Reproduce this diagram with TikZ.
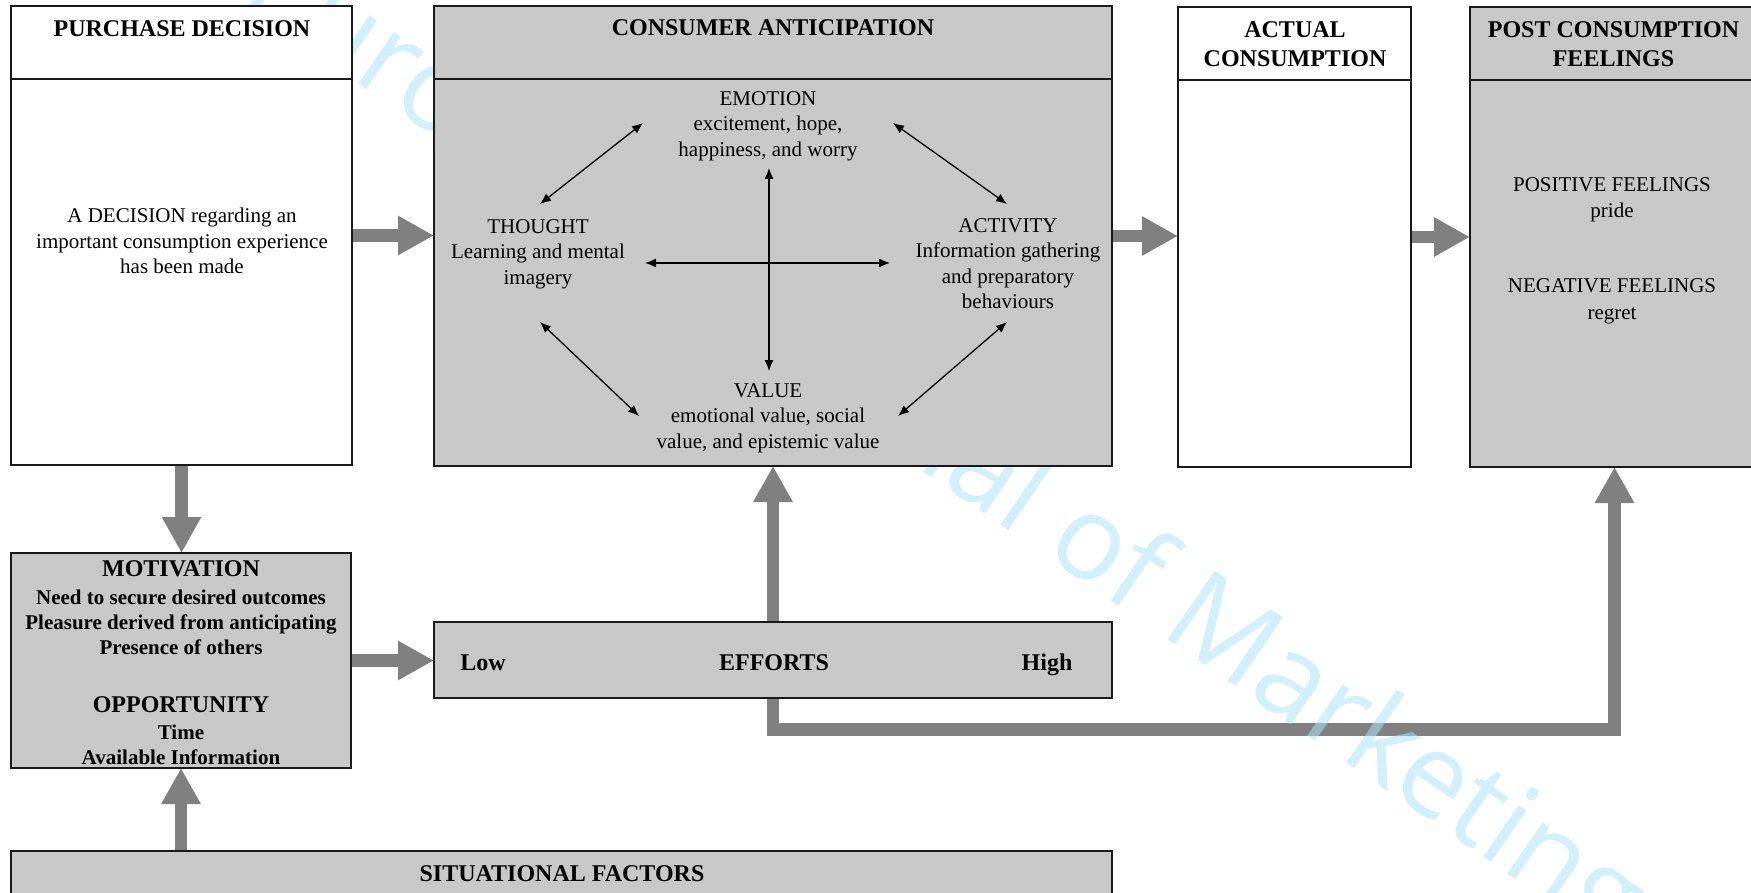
\documentclass[tikz,border=0pt]{standalone}
\usepackage{fontspec}
\setmainfont{Liberation Serif}
\newfontfamily\wmfont{Open Sans}
\usetikzlibrary{arrows.meta}
\pgfdeclarelayer{connlayer}
\pgfdeclarelayer{wmlayer}
\pgfsetlayers{connlayer,wmlayer,main}
\definecolor{boxgrey}{RGB}{200,200,200}
\definecolor{arrgrey}{RGB}{128,128,128}
\definecolor{wmblue}{RGB}{173,225,249}
\definecolor{edgecol}{RGB}{25,25,25}
\begin{document}
\begin{tikzpicture}[x=1pt,y=-1pt,
  box/.style={draw=edgecol, line width=1.6pt, inner sep=0pt, outer sep=0pt},
  whitebox/.style={box, fill=white},
  greybox/.style={box, fill=boxgrey},
  hline/.style={draw=edgecol, line width=1.6pt},
  bigarrow/.style={draw=arrgrey, line width=12.5pt, line join=miter, -{Triangle[width=37pt,length=36pt]}},
  thinarrow/.style={draw=black, line width=1.3pt, {Latex[length=11pt,width=9pt]}-{Latex[length=11pt,width=9pt]}},
  hdr/.style={font=\fontsize{24}{29.4}\selectfont\bfseries, align=center, inner sep=0pt},
  body/.style={font=\fontsize{21}{25.5}\selectfont, align=center, inner sep=0pt},
  mbody/.style={font=\fontsize{21}{25}\selectfont\bfseries, align=center, inner sep=0pt},
  wmtext/.style={text=wmblue, text opacity=0.55, font=\wmfont\fontsize{117}{117}\selectfont, inner sep=0pt}
]
\useasboundingbox (0,0) rectangle (1751,893);

% boxes
\node[whitebox, minimum width=341pt, minimum height=459pt] (pd) at (181.5,235.5) {};
\node[greybox, minimum width=678pt, minimum height=460pt] (ca) at (773,236) {};
\node[whitebox, minimum width=233pt, minimum height=460pt] (ac) at (1294.5,237) {};
\node[greybox, minimum width=289pt, minimum height=460pt] (pcf) at (1614.5,237) {};
\node[greybox, minimum width=340pt, minimum height=215pt] (mot) at (181,660.5) {};
\node[greybox, minimum width=678pt, minimum height=76pt] (eff) at (773,660) {};
\node[greybox, minimum width=1101pt, minimum height=84pt] (sit) at (561.5,893) {};

% header lines
\draw[hline] ([yshift=-73pt]pd.north west) -- ([yshift=-73pt]pd.north east);
\draw[hline] ([yshift=-73pt]ca.north west) -- ([yshift=-73pt]ca.north east);
\draw[hline] ([yshift=-73pt]ac.north west) -- ([yshift=-73pt]ac.north east);
\draw[hline] ([yshift=-73pt]pcf.north west) -- ([yshift=-73pt]pcf.north east);

% texts
\node[hdr, anchor=base] (pdt) at (182,36.7) {PURCHASE DECISION};
\node[hdr, anchor=base] (cat) at (773,36) {CONSUMER ANTICIPATION};
\node[hdr] (act) at (1295,44) {ACTUAL\\CONSUMPTION};
\node[hdr] (pcft) at (1613.5,44) {POST CONSUMPTION\\FEELINGS};
\node[body] (pdb) at (182,241.3) {A DECISION regarding an\\important consumption experience\\has been made};
\node[body] (emo) at (768,126.3) {EMOTION\\excitement, hope,\\happiness, and worry};
\node[body] (tho) at (538,254) {THOUGHT\\Learning and mental\\imagery};
\node[body] (actv) at (1008,263.8) {ACTIVITY\\Information gathering\\and preparatory\\behaviours};
\node[body] (val) at (768,418.3) {VALUE\\emotional value, social\\value, and epistemic value};
\node[body, font=\fontsize{21}{26.3}\selectfont] (pos) at (1612,199.8) {POSITIVE FEELINGS\\pride};
\node[body, font=\fontsize{21}{26.3}\selectfont] (neg) at (1612,301.3) {NEGATIVE FEELINGS\\regret};
\node[hdr, anchor=base] (mott) at (181,576.7) {MOTIVATION};
\node[mbody] (motb) at (181,622) {Need to secure desired outcomes\\Pleasure derived from anticipating\\Presence of others};
\node[hdr, anchor=base] (oppt) at (181,712.7) {OPPORTUNITY};
\node[mbody] (oppb) at (181,744.5) {Time\\Available Information};
\node[hdr, anchor=base] (low) at (483,670) {Low};
\node[hdr, anchor=base] (efft) at (774,670) {EFFORTS};
\node[hdr, anchor=base] (high) at (1047,670) {High};
\node[hdr, anchor=base] (sitt) at (562,881.5) {SITUATIONAL FACTORS};

% thin arrow end points
\coordinate (et1) at (643,123);
\coordinate (et2) at (540,204);
\coordinate (ea1) at (893,123);
\coordinate (ea2) at (1007,204);
\coordinate (tv1) at (540,322);
\coordinate (tv2) at (639,416);
\coordinate (av1) at (1007,322);
\coordinate (av2) at (898,416);
\coordinate (ev1) at (769,168);
\coordinate (ev2) at (769,371);
\coordinate (ta1) at (645,263);
\coordinate (ta2) at (890,263);
\draw[thinarrow] (et1) -- (et2);
\draw[thinarrow] (ea1) -- (ea2);
\draw[thinarrow] (tv1) -- (tv2);
\draw[thinarrow] (av1) -- (av2);
\draw[thinarrow] (ev1) -- (ev2);
\draw[thinarrow] (ta1) -- (ta2);

% big connectors
\coordinate (elbow) at (1614.5,729.5);
\begin{pgfonlayer}{connlayer}
\draw[bigarrow] (pd.east) -- (pd.east -| ca.west);
\draw[bigarrow] (ca.east) -- (ca.east -| ac.west);
\draw[bigarrow] (ac.east) -- (ac.east -| pcf.west);
\draw[bigarrow] (pd.south) -- (pd.south |- mot.north);
\draw[bigarrow] (sit.north -| mot.south) -- (mot.south);
\draw[bigarrow] (mot.east) -- (mot.east -| eff.west);
\draw[bigarrow] (eff.north) -- (ca.south);
\draw[bigarrow] (eff.south) |- (elbow) -- (elbow |- pcf.south);
\end{pgfonlayer}

% watermark
\begin{pgfonlayer}{wmlayer}
\node[wmtext, rotate=-34.5, anchor=base west] (wmark) at (238,1) {European Journal of Marketing};
\end{pgfonlayer}
\end{tikzpicture}
\end{document}
